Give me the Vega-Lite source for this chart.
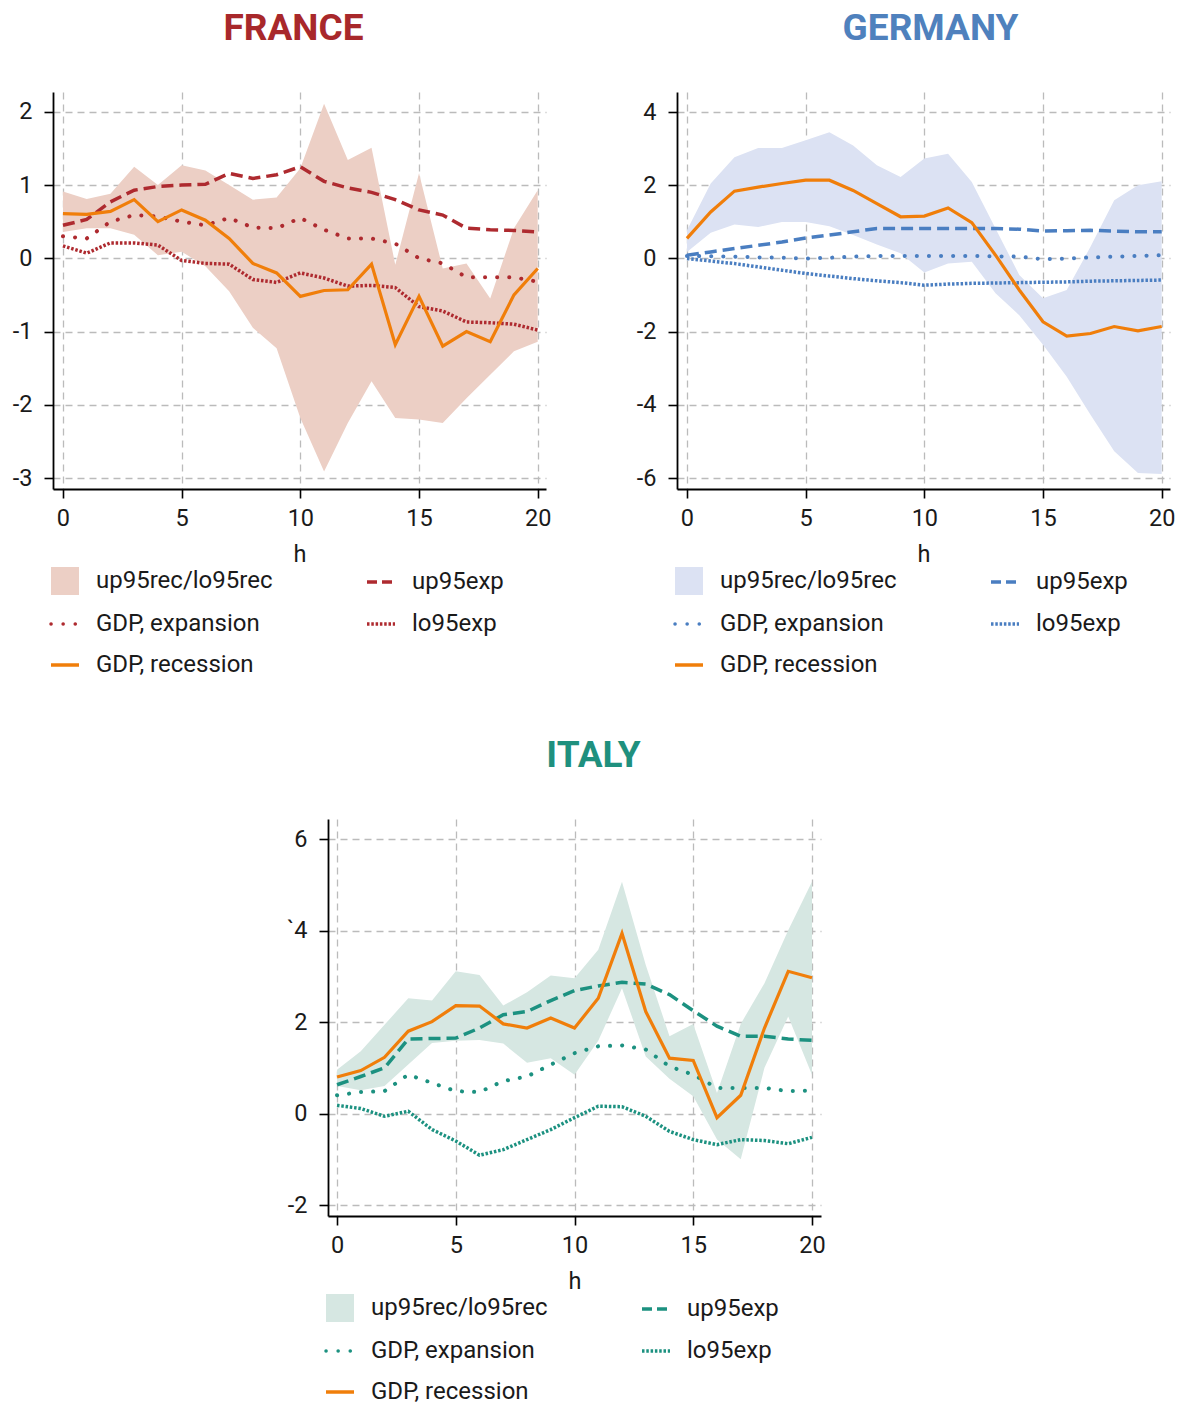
{
  "$schema": "https://vega.github.io/schema/vega-lite/v6.json",
  "padding": {"left": 12, "top": 10, "right": 5, "bottom": 5},
  "background": "#ffffff",
  "datasets": {
    "france": [
      {"h": 0, "up95rec": 0.91, "lo95rec": 0.36, "up95exp": 0.45, "lo95exp": 0.17, "gdp_exp": 0.30, "gdp_rec": 0.61},
      {"h": 1, "up95rec": 0.81, "lo95rec": 0.41, "up95exp": 0.53, "lo95exp": 0.07, "gdp_exp": 0.27, "gdp_rec": 0.60},
      {"h": 2, "up95rec": 0.88, "lo95rec": 0.41, "up95exp": 0.77, "lo95exp": 0.21, "gdp_exp": 0.50, "gdp_rec": 0.64},
      {"h": 3, "up95rec": 1.25, "lo95rec": 0.32, "up95exp": 0.93, "lo95exp": 0.21, "gdp_exp": 0.59, "gdp_rec": 0.80},
      {"h": 4, "up95rec": 1.00, "lo95rec": 0.04, "up95exp": 0.98, "lo95exp": 0.18, "gdp_exp": 0.57, "gdp_rec": 0.50},
      {"h": 5, "up95rec": 1.27, "lo95rec": 0.09, "up95exp": 1.00, "lo95exp": -0.03, "gdp_exp": 0.50, "gdp_rec": 0.66},
      {"h": 6, "up95rec": 1.20, "lo95rec": -0.11, "up95exp": 1.01, "lo95exp": -0.07, "gdp_exp": 0.45, "gdp_rec": 0.52},
      {"h": 7, "up95rec": 1.00, "lo95rec": -0.45, "up95exp": 1.16, "lo95exp": -0.08, "gdp_exp": 0.55, "gdp_rec": 0.27},
      {"h": 8, "up95rec": 0.80, "lo95rec": -0.95, "up95exp": 1.09, "lo95exp": -0.29, "gdp_exp": 0.42, "gdp_rec": -0.07},
      {"h": 9, "up95rec": 0.83, "lo95rec": -1.23, "up95exp": 1.14, "lo95exp": -0.33, "gdp_exp": 0.41, "gdp_rec": -0.20},
      {"h": 10, "up95rec": 1.23, "lo95rec": -2.18, "up95exp": 1.25, "lo95exp": -0.20, "gdp_exp": 0.55, "gdp_rec": -0.52},
      {"h": 11, "up95rec": 2.11, "lo95rec": -2.91, "up95exp": 1.05, "lo95exp": -0.27, "gdp_exp": 0.39, "gdp_rec": -0.44},
      {"h": 12, "up95rec": 1.34, "lo95rec": -2.25, "up95exp": 0.96, "lo95exp": -0.38, "gdp_exp": 0.27, "gdp_rec": -0.43},
      {"h": 13, "up95rec": 1.51, "lo95rec": -1.68, "up95exp": 0.90, "lo95exp": -0.37, "gdp_exp": 0.27, "gdp_rec": -0.08},
      {"h": 14, "up95rec": -0.09, "lo95rec": -2.18, "up95exp": 0.80, "lo95exp": -0.40, "gdp_exp": 0.20, "gdp_rec": -1.18},
      {"h": 15, "up95rec": 1.16, "lo95rec": -2.20, "up95exp": 0.66, "lo95exp": -0.66, "gdp_exp": 0.00, "gdp_rec": -0.52},
      {"h": 16, "up95rec": -0.14, "lo95rec": -2.25, "up95exp": 0.59, "lo95exp": -0.72, "gdp_exp": -0.07, "gdp_rec": -1.20},
      {"h": 17, "up95rec": -0.07, "lo95rec": -1.91, "up95exp": 0.41, "lo95exp": -0.87, "gdp_exp": -0.26, "gdp_rec": -1.00},
      {"h": 18, "up95rec": -0.55, "lo95rec": -1.59, "up95exp": 0.39, "lo95exp": -0.88, "gdp_exp": -0.26, "gdp_rec": -1.14},
      {"h": 19, "up95rec": 0.41, "lo95rec": -1.27, "up95exp": 0.38, "lo95exp": -0.90, "gdp_exp": -0.26, "gdp_rec": -0.50},
      {"h": 20, "up95rec": 0.93, "lo95rec": -1.14, "up95exp": 0.36, "lo95exp": -0.98, "gdp_exp": -0.32, "gdp_rec": -0.14}
    ],
    "germany": [
      {"h": 0, "up95rec": 0.77, "lo95rec": 0.18, "up95exp": 0.09, "lo95exp": 0.00, "gdp_exp": 0.07, "gdp_rec": 0.55},
      {"h": 1, "up95rec": 2.05, "lo95rec": 0.70, "up95exp": 0.18, "lo95exp": -0.07, "gdp_exp": 0.06, "gdp_rec": 1.27},
      {"h": 2, "up95rec": 2.77, "lo95rec": 0.93, "up95exp": 0.27, "lo95exp": -0.14, "gdp_exp": 0.05, "gdp_rec": 1.84},
      {"h": 3, "up95rec": 3.02, "lo95rec": 0.86, "up95exp": 0.36, "lo95exp": -0.23, "gdp_exp": 0.03, "gdp_rec": 1.95},
      {"h": 4, "up95rec": 3.02, "lo95rec": 1.00, "up95exp": 0.45, "lo95exp": -0.32, "gdp_exp": 0.02, "gdp_rec": 2.05},
      {"h": 5, "up95rec": 3.23, "lo95rec": 1.00, "up95exp": 0.56, "lo95exp": -0.41, "gdp_exp": 0.00, "gdp_rec": 2.14},
      {"h": 6, "up95rec": 3.45, "lo95rec": 0.88, "up95exp": 0.64, "lo95exp": -0.48, "gdp_exp": 0.02, "gdp_rec": 2.14},
      {"h": 7, "up95rec": 3.09, "lo95rec": 0.64, "up95exp": 0.73, "lo95exp": -0.55, "gdp_exp": 0.05, "gdp_rec": 1.86},
      {"h": 8, "up95rec": 2.55, "lo95rec": 0.38, "up95exp": 0.82, "lo95exp": -0.61, "gdp_exp": 0.07, "gdp_rec": 1.50},
      {"h": 9, "up95rec": 2.23, "lo95rec": 0.14, "up95exp": 0.82, "lo95exp": -0.66, "gdp_exp": 0.07, "gdp_rec": 1.14},
      {"h": 10, "up95rec": 2.73, "lo95rec": -0.38, "up95exp": 0.82, "lo95exp": -0.73, "gdp_exp": 0.07, "gdp_rec": 1.16},
      {"h": 11, "up95rec": 2.86, "lo95rec": -0.14, "up95exp": 0.82, "lo95exp": -0.70, "gdp_exp": 0.07, "gdp_rec": 1.38},
      {"h": 12, "up95rec": 2.09, "lo95rec": -0.09, "up95exp": 0.82, "lo95exp": -0.68, "gdp_exp": 0.07, "gdp_rec": 0.98},
      {"h": 13, "up95rec": 0.82, "lo95rec": -0.95, "up95exp": 0.82, "lo95exp": -0.67, "gdp_exp": 0.06, "gdp_rec": 0.09},
      {"h": 14, "up95rec": -0.45, "lo95rec": -1.55, "up95exp": 0.80, "lo95exp": -0.66, "gdp_exp": 0.05, "gdp_rec": -0.86},
      {"h": 15, "up95rec": -1.09, "lo95rec": -2.36, "up95exp": 0.75, "lo95exp": -0.65, "gdp_exp": -0.02, "gdp_rec": -1.73},
      {"h": 16, "up95rec": -0.86, "lo95rec": -3.23, "up95exp": 0.76, "lo95exp": -0.64, "gdp_exp": 0.00, "gdp_rec": -2.12},
      {"h": 17, "up95rec": 0.32, "lo95rec": -4.27, "up95exp": 0.77, "lo95exp": -0.62, "gdp_exp": 0.03, "gdp_rec": -2.05},
      {"h": 18, "up95rec": 1.59, "lo95rec": -5.27, "up95exp": 0.75, "lo95exp": -0.61, "gdp_exp": 0.05, "gdp_rec": -1.86},
      {"h": 19, "up95rec": 2.00, "lo95rec": -5.86, "up95exp": 0.73, "lo95exp": -0.60, "gdp_exp": 0.07, "gdp_rec": -1.98},
      {"h": 20, "up95rec": 2.11, "lo95rec": -5.89, "up95exp": 0.73, "lo95exp": -0.59, "gdp_exp": 0.09, "gdp_rec": -1.86}
    ],
    "italy": [
      {"h": 0, "up95rec": 0.96, "lo95rec": 0.60, "up95exp": 0.63, "lo95exp": 0.18, "gdp_exp": 0.40, "gdp_rec": 0.80},
      {"h": 1, "up95rec": 1.36, "lo95rec": 0.51, "up95exp": 0.81, "lo95exp": 0.11, "gdp_exp": 0.47, "gdp_rec": 0.94},
      {"h": 2, "up95rec": 1.94, "lo95rec": 0.60, "up95exp": 1.00, "lo95exp": -0.06, "gdp_exp": 0.49, "gdp_rec": 1.23},
      {"h": 3, "up95rec": 2.52, "lo95rec": 1.07, "up95exp": 1.63, "lo95exp": 0.05, "gdp_exp": 0.85, "gdp_rec": 1.80},
      {"h": 4, "up95rec": 2.47, "lo95rec": 1.54, "up95exp": 1.64, "lo95exp": -0.35, "gdp_exp": 0.67, "gdp_rec": 2.01},
      {"h": 5, "up95rec": 3.11, "lo95rec": 1.59, "up95exp": 1.65, "lo95exp": -0.60, "gdp_exp": 0.49, "gdp_rec": 2.36},
      {"h": 6, "up95rec": 3.03, "lo95rec": 1.61, "up95exp": 1.87, "lo95exp": -0.91, "gdp_exp": 0.47, "gdp_rec": 2.35},
      {"h": 7, "up95rec": 2.36, "lo95rec": 1.53, "up95exp": 2.16, "lo95exp": -0.79, "gdp_exp": 0.71, "gdp_rec": 1.96},
      {"h": 8, "up95rec": 2.65, "lo95rec": 1.11, "up95exp": 2.23, "lo95exp": -0.57, "gdp_exp": 0.81, "gdp_rec": 1.87},
      {"h": 9, "up95rec": 3.02, "lo95rec": 1.21, "up95exp": 2.47, "lo95exp": -0.35, "gdp_exp": 1.07, "gdp_rec": 2.09},
      {"h": 10, "up95rec": 2.96, "lo95rec": 0.85, "up95exp": 2.69, "lo95exp": -0.09, "gdp_exp": 1.32, "gdp_rec": 1.87},
      {"h": 11, "up95rec": 3.58, "lo95rec": 1.59, "up95exp": 2.79, "lo95exp": 0.16, "gdp_exp": 1.47, "gdp_rec": 2.52},
      {"h": 12, "up95rec": 5.07, "lo95rec": 2.74, "up95exp": 2.87, "lo95exp": 0.15, "gdp_exp": 1.49, "gdp_rec": 3.94},
      {"h": 13, "up95rec": 3.25, "lo95rec": 1.25, "up95exp": 2.83, "lo95exp": -0.06, "gdp_exp": 1.40, "gdp_rec": 2.23},
      {"h": 14, "up95rec": 1.69, "lo95rec": 0.76, "up95exp": 2.60, "lo95exp": -0.39, "gdp_exp": 1.03, "gdp_rec": 1.21},
      {"h": 15, "up95rec": 1.96, "lo95rec": 0.38, "up95exp": 2.25, "lo95exp": -0.57, "gdp_exp": 0.85, "gdp_rec": 1.16},
      {"h": 16, "up95rec": 0.45, "lo95rec": -0.57, "up95exp": 1.91, "lo95exp": -0.68, "gdp_exp": 0.56, "gdp_rec": -0.09},
      {"h": 17, "up95rec": 1.96, "lo95rec": -1.00, "up95exp": 1.69, "lo95exp": -0.57, "gdp_exp": 0.56, "gdp_rec": 0.40},
      {"h": 18, "up95rec": 2.85, "lo95rec": 1.00, "up95exp": 1.69, "lo95exp": -0.59, "gdp_exp": 0.56, "gdp_rec": 1.87},
      {"h": 19, "up95rec": 4.01, "lo95rec": 2.12, "up95exp": 1.63, "lo95exp": -0.66, "gdp_exp": 0.49, "gdp_rec": 3.11},
      {"h": 20, "up95rec": 5.07, "lo95rec": 0.85, "up95exp": 1.60, "lo95exp": -0.52, "gdp_exp": 0.50, "gdp_rec": 2.97}
    ]
  },
  "vconcat": [
    {
      "hconcat": [
        {
          "width": 493, "height": 397,
          "data": {"name": "france"},
          "title": {"text": "FRANCE", "color": "#A8282B", "dx": -6},
          "encoding": {"x": {"field": "h", "type": "quantitative", "title": "h", "scale": {"domain": [-0.42, 20.35], "nice": false, "zero": false}, "axis": {"values": [0, 5, 10, 15, 20]}}},
          "layer": [
            {"mark": {"type": "area", "opacity": 1},
             "encoding": {
               "y": {"field": "lo95rec", "type": "quantitative", "title": null, "scale": {"domain": [-3.15, 2.27], "nice": false, "zero": false}, "axis": {"values": [-3, -2, -1, 0, 1, 2], "labelExpr": "datum.value + ''"}},
               "y2": {"field": "up95rec"},
               "color": {"datum": "band", "type": "nominal",
                 "scale": {"domain": ["band", "up95exp", "gdp_exp", "lo95exp", "gdp_rec"], "range": ["#ECCFC5", "#AE2A2F", "#AE2A2F", "#AE2A2F", "#F07E0A"]},
                 "legend": {"title": null, "orient": "bottom", "columns": 2,
                   "labelExpr": "datum.value == 'band' ? 'up95rec/lo95rec' : datum.value == 'gdp_exp' ? 'GDP, expansion' : datum.value == 'gdp_rec' ? 'GDP, recession' : datum.value",
                   "encoding": {"symbols": {
                     "shape": {"value": {"expr": "datum.value == 'band' ? 'square' : 'stroke'"}},
                     "fill": {"value": {"expr": "datum.value == 'band' ? '#E2B9AC' : 'transparent'"}},
                     "stroke": {"value": {"expr": "datum.value == 'band' ? 'transparent' : datum.value == 'gdp_rec' ? '#F07E0A' : '#AE2A2F'"}},
                     "strokeDash": {"value": {"expr": "datum.value == 'up95exp' ? [10, 5] : datum.value == 'gdp_exp' ? [0.1, 12] : datum.value == 'lo95exp' ? [2.5, 1.8] : [100, 0]"}},
                     "strokeCap": {"value": {"expr": "datum.value == 'gdp_exp' ? 'round' : 'butt'"}},
                     "strokeWidth": {"value": {"expr": "datum.value == 'band' ? 0 : 3.5"}},
                     "opacity": {"value": 1}
                   }}}}
             }},
            {"mark": {"type": "line", "strokeDash": [12, 6], "strokeWidth": 3.5},
             "encoding": {"y": {"field": "up95exp", "type": "quantitative", "title": null}, "color": {"datum": "up95exp", "type": "nominal"}}},
            {"mark": {"type": "line", "strokeDash": [0.1, 12], "strokeCap": "round", "strokeWidth": 4},
             "encoding": {"y": {"field": "gdp_exp", "type": "quantitative", "title": null}, "color": {"datum": "gdp_exp", "type": "nominal"}}},
            {"mark": {"type": "line", "strokeDash": [2.5, 1.8], "strokeWidth": 3.5},
             "encoding": {"y": {"field": "lo95exp", "type": "quantitative", "title": null}, "color": {"datum": "lo95exp", "type": "nominal"}}},
            {"mark": {"type": "line", "strokeWidth": 3.2},
             "encoding": {"y": {"field": "gdp_rec", "type": "quantitative", "title": null}, "color": {"datum": "gdp_rec", "type": "nominal"}}}
          ]
        },
        {
          "width": 493, "height": 397,
          "data": {"name": "germany"},
          "title": {"text": "GERMANY", "color": "#4F81BD", "dx": 7},
          "encoding": {"x": {"field": "h", "type": "quantitative", "title": "h", "scale": {"domain": [-0.42, 20.35], "nice": false, "zero": false}, "axis": {"values": [0, 5, 10, 15, 20]}}},
          "layer": [
            {"mark": {"type": "area", "opacity": 1},
             "encoding": {
               "y": {"field": "lo95rec", "type": "quantitative", "title": null, "scale": {"domain": [-6.3, 4.55], "nice": false, "zero": false}, "axis": {"values": [-6, -4, -2, 0, 2, 4], "labelExpr": "datum.value + ''"}},
               "y2": {"field": "up95rec"},
               "color": {"datum": "band", "type": "nominal",
                 "scale": {"domain": ["band", "up95exp", "gdp_exp", "lo95exp", "gdp_rec"], "range": ["#DCE2F3", "#4A7EC1", "#4A7EC1", "#4A7EC1", "#F07E0A"]},
                 "legend": {"title": null, "orient": "bottom", "columns": 2,
                   "labelExpr": "datum.value == 'band' ? 'up95rec/lo95rec' : datum.value == 'gdp_exp' ? 'GDP, expansion' : datum.value == 'gdp_rec' ? 'GDP, recession' : datum.value",
                   "encoding": {"symbols": {
                     "shape": {"value": {"expr": "datum.value == 'band' ? 'square' : 'stroke'"}},
                     "fill": {"value": {"expr": "datum.value == 'band' ? '#D9DFF2' : 'transparent'"}},
                     "stroke": {"value": {"expr": "datum.value == 'band' ? 'transparent' : datum.value == 'gdp_rec' ? '#F07E0A' : '#4A7EC1'"}},
                     "strokeDash": {"value": {"expr": "datum.value == 'up95exp' ? [10, 5] : datum.value == 'gdp_exp' ? [0.1, 12] : datum.value == 'lo95exp' ? [2.5, 1.8] : [100, 0]"}},
                     "strokeCap": {"value": {"expr": "datum.value == 'gdp_exp' ? 'round' : 'butt'"}},
                     "strokeWidth": {"value": {"expr": "datum.value == 'band' ? 0 : 3.5"}},
                     "opacity": {"value": 1}
                   }}}}
             }},
            {"mark": {"type": "line", "strokeDash": [12, 6], "strokeWidth": 3.5},
             "encoding": {"y": {"field": "up95exp", "type": "quantitative", "title": null}, "color": {"datum": "up95exp", "type": "nominal"}}},
            {"mark": {"type": "line", "strokeDash": [0.1, 12], "strokeCap": "round", "strokeWidth": 4},
             "encoding": {"y": {"field": "gdp_exp", "type": "quantitative", "title": null}, "color": {"datum": "gdp_exp", "type": "nominal"}}},
            {"mark": {"type": "line", "strokeDash": [2.5, 1.8], "strokeWidth": 3.5},
             "encoding": {"y": {"field": "lo95exp", "type": "quantitative", "title": null}, "color": {"datum": "lo95exp", "type": "nominal"}}},
            {"mark": {"type": "line", "strokeWidth": 3.2},
             "encoding": {"y": {"field": "gdp_rec", "type": "quantitative", "title": null}, "color": {"datum": "gdp_rec", "type": "nominal"}}}
          ]
        }
      ],
      "spacing": 85,
      "resolve": {"scale": {"color": "independent", "x": "independent", "y": "independent"}, "legend": {"color": "independent"}}
    },
    {
      "hconcat": [
        {
          "width": 233, "height": 397,
          "data": {"values": []},
          "mark": {"type": "point", "opacity": 0}
        },
        {
          "width": 493, "height": 397,
          "data": {"name": "italy"},
          "title": {"text": "ITALY", "color": "#1F907E", "dx": 19},
          "encoding": {"x": {"field": "h", "type": "quantitative", "title": "h", "scale": {"domain": [-0.38, 20.38], "nice": false, "zero": false}, "axis": {"values": [0, 5, 10, 15, 20]}}},
          "layer": [
            {"mark": {"type": "area", "opacity": 1},
             "encoding": {
               "y": {"field": "lo95rec", "type": "quantitative", "title": null, "scale": {"domain": [-2.24, 6.44], "nice": false, "zero": false}, "axis": {"values": [-2, 0, 2, 4, 6], "labelExpr": "datum.value == 4 ? '`4' : datum.value + ''"}},
               "y2": {"field": "up95rec"},
               "color": {"datum": "band", "type": "nominal",
                 "scale": {"domain": ["band", "up95exp", "gdp_exp", "lo95exp", "gdp_rec"], "range": ["#D6E7E2", "#1C9180", "#1C9180", "#1C9180", "#F07E0A"]},
                 "legend": {"title": null, "orient": "bottom", "columns": 2,
                   "labelExpr": "datum.value == 'band' ? 'up95rec/lo95rec' : datum.value == 'gdp_exp' ? 'GDP, expansion' : datum.value == 'gdp_rec' ? 'GDP, recession' : datum.value",
                   "encoding": {"symbols": {
                     "shape": {"value": {"expr": "datum.value == 'band' ? 'square' : 'stroke'"}},
                     "fill": {"value": {"expr": "datum.value == 'band' ? '#D5E6E1' : 'transparent'"}},
                     "stroke": {"value": {"expr": "datum.value == 'band' ? 'transparent' : datum.value == 'gdp_rec' ? '#F07E0A' : '#1C9180'"}},
                     "strokeDash": {"value": {"expr": "datum.value == 'up95exp' ? [10, 5] : datum.value == 'gdp_exp' ? [0.1, 12] : datum.value == 'lo95exp' ? [2.5, 1.8] : [100, 0]"}},
                     "strokeCap": {"value": {"expr": "datum.value == 'gdp_exp' ? 'round' : 'butt'"}},
                     "strokeWidth": {"value": {"expr": "datum.value == 'band' ? 0 : 3.5"}},
                     "opacity": {"value": 1}
                   }}}}
             }},
            {"mark": {"type": "line", "strokeDash": [12, 6], "strokeWidth": 3.5},
             "encoding": {"y": {"field": "up95exp", "type": "quantitative", "title": null}, "color": {"datum": "up95exp", "type": "nominal"}}},
            {"mark": {"type": "line", "strokeDash": [0.1, 12], "strokeCap": "round", "strokeWidth": 4},
             "encoding": {"y": {"field": "gdp_exp", "type": "quantitative", "title": null}, "color": {"datum": "gdp_exp", "type": "nominal"}}},
            {"mark": {"type": "line", "strokeDash": [2.5, 1.8], "strokeWidth": 3.5},
             "encoding": {"y": {"field": "lo95exp", "type": "quantitative", "title": null}, "color": {"datum": "lo95exp", "type": "nominal"}}},
            {"mark": {"type": "line", "strokeWidth": 3.2},
             "encoding": {"y": {"field": "gdp_rec", "type": "quantitative", "title": null}, "color": {"datum": "gdp_rec", "type": "nominal"}}}
          ]
        }
      ],
      "spacing": 0,
      "resolve": {"scale": {"color": "independent", "x": "independent", "y": "independent"}, "legend": {"color": "independent"}}
    }
  ],
  "spacing": 60,
  "resolve": {"scale": {"color": "independent", "x": "independent", "y": "independent"}, "legend": {"color": "independent"}},
  "config": {
    "view": {"stroke": null},
    "font": "Roboto",
    "title": {"font": "Roboto", "fontSize": 37, "fontWeight": "bold", "offset": 44, "anchor": "middle", "frame": "group"},
    "axis": {
      "grid": true, "gridColor": "#BBBBBB", "gridDash": [7, 5], "gridWidth": 1.3,
      "domainColor": "#000000", "domainWidth": 1.8,
      "tickColor": "#000000", "tickSize": 9, "tickWidth": 1.6,
      "labelFont": "Roboto", "labelFontSize": 23.5, "labelColor": "#1a1a1a",
      "titleFont": "Roboto", "titleFontSize": 23.5, "titleFontWeight": "normal", "titleColor": "#1a1a1a", "titlePadding": 13
    },
    "axisX": {"labelPadding": 8},
    "axisY": {"labelPadding": 12},
    "legend": {
      "labelFont": "Roboto", "labelFontSize": 24, "labelColor": "#1a1a1a", "labelLimit": 400,
      "symbolSize": 784, "symbolStrokeWidth": 3.5, "labelOffset": 19,
      "columnPadding": 87, "rowPadding": 17, "offset": 3, "padding": 0
    }
  }
}
